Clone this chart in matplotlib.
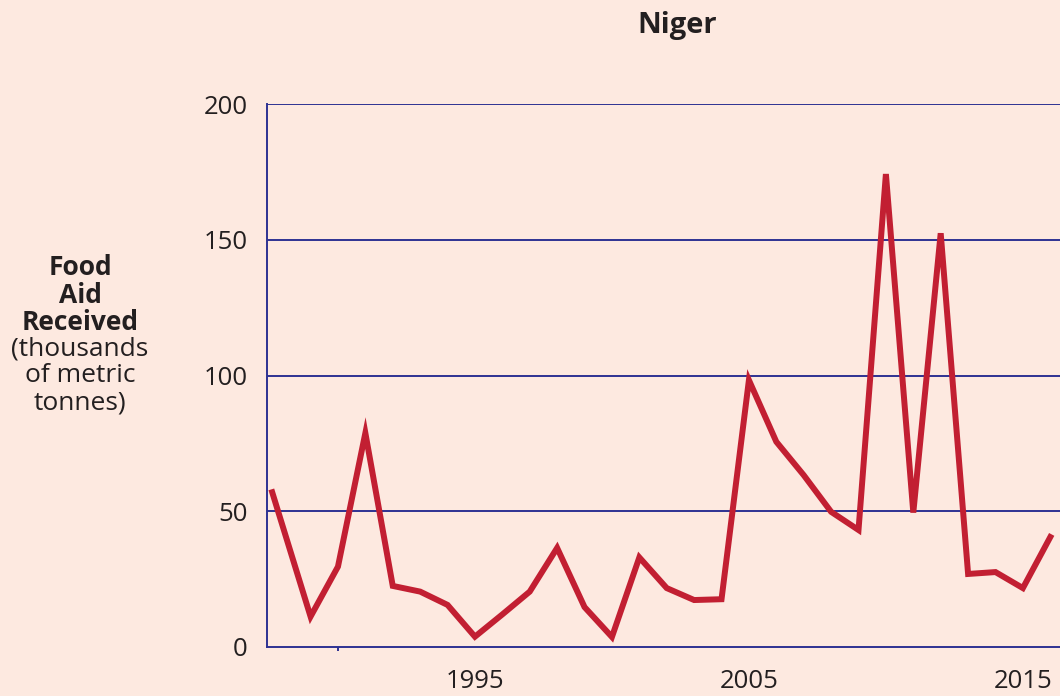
import matplotlib
matplotlib.use("Agg")
from matplotlib import pyplot as plt

plt.rcParams['font.family'] = ['Open Sans', 'DejaVu Sans']

# Niger food aid received, thousands of metric tonnes
years = [1987.6, 1989, 1990, 1991, 1992, 1993, 1994, 1995, 1996, 1997, 1998,
         1999, 2000, 2001, 2002, 2003, 2004, 2005, 2006, 2007, 2008, 2009,
         2010, 2011, 2012, 2013, 2014, 2015, 2016]
food_aid = [57, 11.2, 29.6, 78.8, 22.5, 20.4, 15.5, 3.8, 12, 20.4, 36.5,
            14.7, 3.7, 33, 21.7, 17.3, 17.6, 98.3, 75.6, 63.3, 49.8, 43.1,
            174.2, 49.5, 152.4, 26.9, 27.6, 21.7, 40.5]
yticks = [0, 50, 100, 150, 200]
xticks = [1995, 2005, 2015]

bg = "#FDE9E0"
blue = "#2E3192"
red = "#C21F32"
ink = "#231F20"

fig = plt.figure(figsize=(10.6, 6.96), dpi=100, facecolor=bg)
ax = fig.add_axes([267/1060, 1-647/696, (1087-267)/1060, (647-104)/696])
ax.set_facecolor(bg)

for y in yticks[1:]:
    ax.axhline(y, color=blue, lw=1.4, zorder=1)
ax.plot(years, food_aid, color=red, lw=4.3, solid_joinstyle='miter', zorder=3)

ax.set_xlim(1987.41, 2017.34)
ax.set_ylim(0, 200)
ax.set_yticks(yticks)
ax.set_xticks(xticks)
ax.set_xticks([1990], minor=True)
ax.tick_params(axis='y', length=0, pad=14, labelsize=18.5, labelcolor=ink)
ax.tick_params(axis='x', which='major', length=0, pad=16, labelsize=18.5, labelcolor=ink)
ax.tick_params(axis='x', which='minor', length=3, width=1.4, color=blue, direction='out')

for s in ['right', 'top']:
    ax.spines[s].set_visible(False)
for s in ['left', 'bottom']:
    ax.spines[s].set_color(blue)
    ax.spines[s].set_linewidth(1.4)

fig.text(677/1060, 1-26/696, "Niger", ha='center', va='center',
         fontsize=21, fontweight='bold', color=ink)

label_lines = [("Food", 'bold'), ("Aid", 'bold'), ("Received", 'bold'),
               ("(thousands", 'normal'), ("of metric", 'normal'), ("tonnes)", 'normal')]
for i, (txt, w) in enumerate(label_lines):
    fig.text(80/1060, 1-(268+27*i)/696, txt, ha='center', va='center',
             fontsize=19, fontweight=w, color=ink)

plt.savefig("out.png", dpi=100, facecolor=bg)
